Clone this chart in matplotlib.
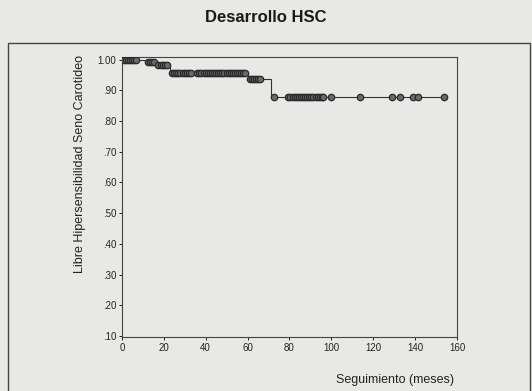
import matplotlib
matplotlib.use("Agg")
import matplotlib.pyplot as plt
from matplotlib.patches import Rectangle
import numpy as np

plt.rcParams['font.family'] = ['Liberation Sans', 'DejaVu Sans']

# Kaplan-Meier steps (months, survival)
event_t = [0, 11.8, 16.5, 23, 60, 71, 154]
event_s = [1.0, 0.993, 0.982, 0.957, 0.937, 0.877, 0.877]

# censored observations (months)
censor_t = [1, 2, 3, 4, 5, 6, 7,
            12.5, 13.5, 14.5, 15.5,
            17.5, 18.5, 19.5, 20.5, 21.5,
            24, 25, 26, 27, 28, 29, 30, 31, 32, 33,
            36, 37, 38, 39, 40, 41, 42, 43, 44, 45, 46, 47, 48, 49, 50, 51, 52, 53, 54, 55, 56, 57, 58, 59,
            61, 62, 63, 64, 65, 66,
            72.5, 79.5, 80.5, 81.5, 82.5, 83.5, 84.5, 85.5, 86.5, 87.5, 88.5, 89.5, 90.5, 91.5, 92.5,
            93.5, 94.5, 95.5, 96, 100,
            113.5, 129, 133, 139, 141.5, 154]

yticks = [0.1, 0.2, 0.3, 0.4, 0.5, 0.6, 0.7, 0.8, 0.9, 1.0]
ylabels = ['.10', '.20', '.30', '.40', '.50', '.60', '.70', '.80', '.90', '1.00']
xticks = [0, 20, 40, 60, 80, 100, 120, 140, 160]

bg = '#e8e8e6'
fig = plt.figure(figsize=(5.32, 3.91), dpi=100, facecolor=bg)
ax = fig.add_axes([0.229, 0.138, 0.63, 0.716], facecolor=bg)

idx = np.searchsorted(event_t, censor_t, side='right') - 1
censor_s = [event_s[i] for i in idx]

ax.step(event_t, event_s, where='post', color='#333333', lw=0.8, zorder=2)
ax.plot(censor_t, censor_s, 'o', ms=4.6, mfc='#6a6a6a', mec='#2a2a2a', mew=0.9, zorder=3)

ax.set_xlim(0, 160)
ax.set_ylim(0.097, 1.008)
ax.set_xticks(xticks)
ax.set_yticks(yticks)
ax.set_yticklabels(ylabels)
ax.tick_params(labelsize=7, length=2, width=0.7, colors='#222222', pad=2)
for s in ax.spines.values():
    s.set_color('#444444')
    s.set_linewidth(0.8)

fig.text(80 / 532, 1 - 164 / 391, 'Libre Hipersensibilidad Seno Carotideo', fontsize=9, color='#222222',
         rotation=90, ha='center', va='center')
fig.text(0.742, 0.028, 'Seguimiento (meses)', fontsize=9, color='#222222', ha='center', va='center')
fig.text(0.5, 0.955, 'Desarrollo HSC', fontsize=12, fontweight='bold', color='#1a1a1a', ha='center', va='center')

fig.patches.append(Rectangle((8 / 532, -0.02), 522 / 532, 1.02 - 43 / 391, transform=fig.transFigure,
                             fill=False, edgecolor='#444444', lw=1.0))

fig.savefig('out.png', dpi=100, facecolor=bg)
